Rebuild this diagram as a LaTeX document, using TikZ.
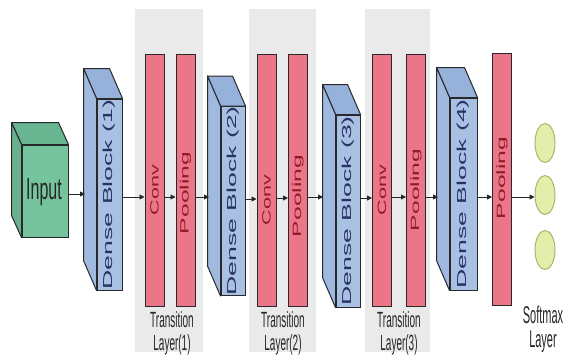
\documentclass[tikz,border=0pt]{standalone}
\usepackage{fontspec}
\usepackage{graphicx}
\setmainfont{Liberation Sans}
\usetikzlibrary{arrows.meta,shapes.geometric}
\definecolor{gbg}{RGB}{234,234,234}
\definecolor{redf}{RGB}{234,118,135}
\definecolor{redt}{RGB}{150,25,40}
\definecolor{bluef}{RGB}{168,192,226}
\definecolor{bluetop}{RGB}{150,178,218}
\definecolor{blueside}{RGB}{160,185,222}
\definecolor{bluet}{RGB}{40,50,100}
\definecolor{greenf}{RGB}{118,196,158}
\definecolor{greentop}{RGB}{105,180,145}
\definecolor{yelf}{RGB}{228,238,170}
\definecolor{yeld}{RGB}{170,180,105}
\definecolor{edgec}{RGB}{40,40,45}
\tikzset{
  trbg/.style={fill=gbg, draw=none},
  redbar/.style={draw=edgec, line width=1pt, fill=redf, inner sep=0pt, minimum width=19pt, minimum height=252pt},
  redtxt/.style={rotate=90, text=redt, font=\fontsize{12}{12}\selectfont},
  densefront/.style={draw=edgec, line width=1pt, fill=bluef, inner sep=0pt},
  densetxt/.style={rotate=90, text=bluet, font=\fontsize{13}{13}\selectfont},
  sideface/.style={draw=edgec, line width=1pt, line join=round},
  conn/.style={draw=black!85, line width=0.9pt, -{Triangle[length=5pt,width=5pt]}},
  outnode/.style={ellipse, draw=yeld, line width=1pt, fill=yelf},
  lbl/.style={align=center, yscale=2.2, transform shape, text=black!85},
}
\newcommand\DenseBlk[6]{% name, cx, cy, w, h, label
  \node[densefront, minimum width=#4pt, minimum height=#5pt] (#1) at (#2,#3) {};
  \path[sideface, fill=bluetop] (#1.north west) -- ++(-13,-30) -- ([shift={(-13,-30)}]#1.north east) -- (#1.north east) -- cycle;
  \path[sideface, fill=blueside] (#1.north west) -- ++(-13,-30) -- ([shift={(-13,-30)}]#1.south west) -- (#1.south west) -- cycle;
  \node[densetxt] (#1t) at (#2,#3) {\scalebox{2.05}[1]{#6}};
}
\begin{document}
\begin{tikzpicture}[x=1pt,y=-1pt]
\useasboundingbox[fill=white] (0,0) rectangle (572,356);
% transition backgrounds
\fill[trbg] (135,9) rectangle (203,352);
\fill[trbg] (249,9) rectangle (316,352);
\fill[trbg] (365,9) rectangle (430,352);

% input cube
\node[draw=edgec, line width=1pt, fill=greenf, inner sep=0pt, minimum width=46pt, minimum height=92pt] (in) at (45,191) {};
\path[sideface, fill=greentop] (in.north west) -- ++(-10,-22) -- ([shift={(-10,-22)}]in.north east) -- (in.north east) -- cycle;
\path[sideface, fill=greenf!90!black] (in.north west) -- ++(-10,-22) -- ([shift={(-10,-22)}]in.south west) -- (in.south west) -- cycle;
\node[yscale=1.9, transform shape, font=\fontsize{16}{16}\selectfont, text=black!85] (int) at (44,192) {Input};

% dense blocks
\DenseBlk{d1}{109.5}{194.5}{25}{191}{Dense Block (1)}
\DenseBlk{d2}{233}{201}{24}{189}{Dense Block (2)}
\DenseBlk{d3}{348}{211}{24}{192}{Dense Block (3)}
\DenseBlk{d4}{463.5}{194}{27}{192}{Dense Block (4)}

% red bars
\node[redbar] (c1) at (154.5,180) {};
\node[redtxt] (c1t) at (154.5,190) {\scalebox{1.8}[1]{Conv}};
\node[redbar] (p1) at (185.5,180) {};
\node[redtxt] (p1t) at (185.5,193) {\scalebox{2.05}[1]{Pooling}};
\node[redbar] (c2) at (266.5,180) {};
\node[redtxt] (c2t) at (266.5,200) {\scalebox{1.8}[1]{Conv}};
\node[redbar] (p2) at (298,180) {};
\node[redtxt] (p2t) at (298,196) {\scalebox{2.05}[1]{Pooling}};
\node[redbar] (c3) at (382,180) {};
\node[redtxt] (c3t) at (382,190) {\scalebox{1.8}[1]{Conv}};
\node[redbar] (p3) at (416,180) {};
\node[redtxt] (p3t) at (416,190) {\scalebox{2.05}[1]{Pooling}};
\node[redbar] (p4) at (502,179) {};
\node[redtxt] (p4t) at (502,178) {\scalebox{2.05}[1]{Pooling}};

% output nodes
\node[outnode, minimum width=20pt, minimum height=39pt, inner sep=0pt] (o1) at (545,143) {};
\node[outnode, minimum width=20pt, minimum height=39pt, inner sep=0pt] (o2) at (545,195) {};
\node[outnode, minimum width=20pt, minimum height=39pt, inner sep=0pt] (o3) at (545,250) {};

% connectors
\coordinate (d1l) at (85,194);
\coordinate (d2l) at (209,197);
\coordinate (d3l) at (323,197);
\coordinate (d4l) at (438,197);
\draw[conn] (in.east |- 0,194) -- (d1l);
\draw[conn] (d1.east |- 0,197) -- (c1.west |- 0,197);
\draw[conn] (c1.east |- 0,197) -- (p1.west |- 0,197);
\draw[conn] (p1.east |- 0,197) -- (d2l);
\draw[conn] (d2.east |- 0,199) -- (c2.west |- 0,199);
\draw[conn] (c2.east |- 0,198) -- (p2.west |- 0,198);
\draw[conn] (p2.east |- 0,197) -- (d3l);
\draw[conn] (d3.east |- 0,198) -- (c3.west |- 0,198);
\draw[conn] (c3.east |- 0,197) -- (p3.west |- 0,197);
\draw[conn] (p3.east |- 0,197) -- (d4l);
\draw[conn] (d4.east |- 0,197) -- (p4.west |- 0,197);
\draw[conn] (p4.east |- 0,197) -- (o2.west |- 0,197);

% labels
\node[lbl, font=\fontsize{10}{10.5}\selectfont] (tl1) at (172,333) {Transition\\Layer(1)};
\node[lbl, font=\fontsize{10}{10.5}\selectfont] (tl2) at (283,333) {Transition\\Layer(2)};
\node[lbl, font=\fontsize{10}{10.5}\selectfont] (tl3) at (399,333) {Transition\\Layer(3)};
\node[lbl, font=\fontsize{11}{11}\selectfont] (sl) at (543,329) {Softmax\\Layer};
\end{tikzpicture}
\end{document}
